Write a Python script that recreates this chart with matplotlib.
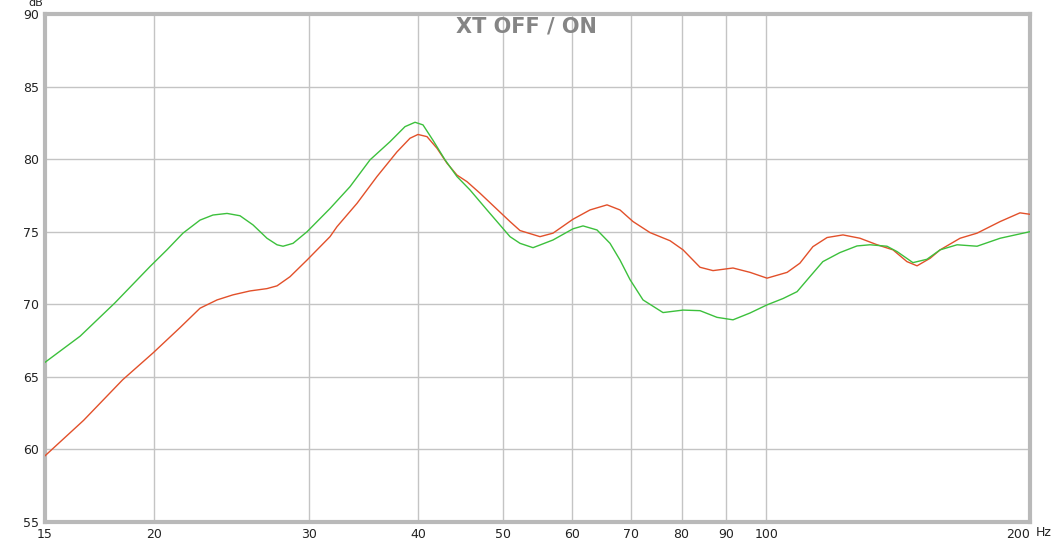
import numpy as np
import matplotlib
matplotlib.use("Agg")
import matplotlib.pyplot as plt
from matplotlib.ticker import FixedLocator, NullLocator

# XT ON (green) and XT OFF (red)
freq_green = [15.0, 16.45, 18.03, 19.77, 20.67, 21.56, 22.55, 23.33, 24.21, 25.05,
              25.92, 26.89, 27.61, 28.05, 28.80, 29.88, 31.74, 33.45, 35.26, 37.16,
              38.66, 39.69, 40.53, 41.61, 42.95, 44.32, 45.86, 47.96, 50.95, 52.31,
              54.13, 57.05, 60.13, 61.74, 64.05, 66.28, 68.04, 69.86, 72.29, 76.19,
              80.31, 83.98, 87.82, 91.59, 95.78, 100.16, 104.5, 108.4, 112.1, 116.0,
              121.3, 126.9, 131.3, 137.3, 141.0, 147.0, 152.5, 157.9, 165.1, 174.0,
              184.9, 198.5, 200.0]
db_green = [66.0, 67.8, 70.1, 72.6, 73.75, 74.9, 75.8, 76.15, 76.26, 76.1,
            75.47, 74.55, 74.1, 74.0, 74.2, 75.0, 76.6, 78.1, 79.95, 81.2,
            82.24, 82.54, 82.36, 81.3, 79.95, 78.8, 77.88, 76.5, 74.66, 74.2,
            73.9, 74.43, 75.2, 75.4, 75.12, 74.2, 73.05, 71.7, 70.3, 69.43,
            69.6, 69.56, 69.1, 68.93, 69.4, 69.96, 70.4, 70.87, 71.9, 72.94,
            73.56, 74.02, 74.1, 74.0, 73.63, 72.87, 73.1, 73.75, 74.1, 74.0,
            74.55, 74.96, 75.0]

freq_red = [15.0, 16.6, 18.4, 19.93, 21.4, 22.55, 23.58, 24.59, 25.72, 26.89,
            27.61, 28.57, 29.88, 31.74, 32.33, 34.08, 35.91, 37.85, 39.17, 40.0,
            40.96, 42.05, 43.17, 44.32, 45.50, 47.09, 50.95, 52.31, 55.13, 57.05,
            60.13, 62.88, 65.76, 68.04, 70.41, 73.63, 77.61, 80.31, 83.98, 86.90,
            91.59, 95.78, 100.16, 105.6, 109.2, 113.0, 117.3, 122.3, 127.9, 133.8,
            139.5, 144.7, 148.6, 153.8, 157.9, 166.4, 174.0, 184.9, 194.8, 200.0]
db_red = [59.56, 62.0, 64.8, 66.65, 68.4, 69.73, 70.3, 70.65, 70.92, 71.08,
          71.27, 71.9, 73.05, 74.66, 75.35, 76.96, 78.8, 80.5, 81.44, 81.7,
          81.55, 80.75, 79.72, 78.9, 78.45, 77.65, 75.7, 75.08, 74.66, 74.9,
          75.86, 76.5, 76.85, 76.5, 75.7, 74.94, 74.38, 73.75, 72.55, 72.32,
          72.5, 72.2, 71.8, 72.2, 72.83, 73.97, 74.6, 74.78, 74.55, 74.1,
          73.75, 72.94, 72.65, 73.17, 73.75, 74.55, 74.9, 75.7, 76.3, 76.2]

x_ticks = [15, 20, 30, 40, 50, 60, 70, 80, 90, 100, 200]
x_labels = ["15", "20", "30", "40", "50", "60", "70", "80", "90", "100", "200"]
y_ticks = [55, 60, 65, 70, 75, 80, 85, 90]

fig = plt.figure(figsize=(10.52, 5.43), dpi=100)
ax = fig.add_axes([45 / 1052, 1 - 522 / 543, 985 / 1052, 508 / 543])

ax.plot(freq_red, db_red, color="#e2502a", lw=1.0, zorder=3)
ax.plot(freq_green, db_green, color="#3cc03c", lw=1.0, zorder=4)

ax.set_xscale("log")
ax.set_xlim(15, 200)
ax.set_ylim(55, 90)
ax.xaxis.set_major_locator(FixedLocator(x_ticks))
ax.xaxis.set_minor_locator(NullLocator())
ax.set_xticklabels(x_labels)
ax.set_yticks(y_ticks)
ax.grid(True, color="#c4c4c4", lw=1.0)
ax.tick_params(length=0, labelsize=9, colors="#222222", pad=4)
ax.get_xticklabels()[-1].set_ha("right")

for s in ax.spines.values():
    s.set_color("#b9b9b9")
    s.set_linewidth(3)

fig.text(36 / 1052, 1 - 3 / 543, "dB", fontsize=8, color="#222222", ha="center", va="center")
fig.text(1036 / 1052, 1 - 532 / 543, "Hz", fontsize=9, color="#222222", ha="left", va="center")
fig.text(526 / 1052, 1 - 26 / 543, "XT OFF / ON", fontsize=15, fontweight="bold",
         color="#858585", ha="center", va="center")

fig.savefig("out.png", dpi=100)
